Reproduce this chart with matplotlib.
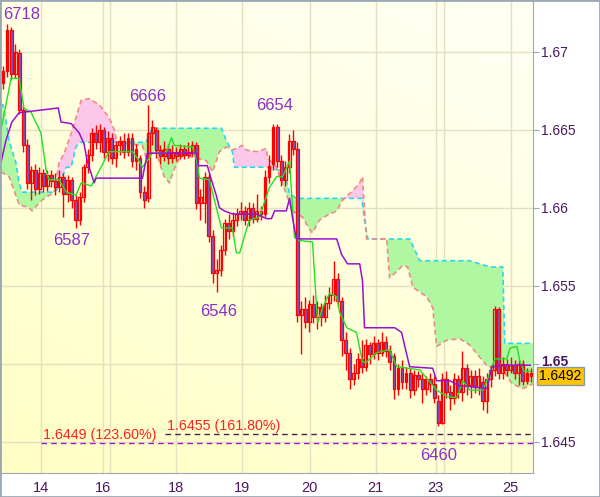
import numpy as np
import matplotlib
matplotlib.use("Agg")
import matplotlib.pyplot as plt
import matplotlib.transforms as mtransforms
from matplotlib.patches import Rectangle

plt.rcParams['font.family'] = ['Liberation Sans', 'DejaVu Sans']

# --- candles, prices in pips (1.6xxx -> 6xxx) ---
opens = [6680, 6688, 6714, 6686, 6699, 6663, 6640, 6616, 6624, 6612, 6622, 6614, 6621, 6617, 6613, 6620,
         6609, 6618, 6605, 6592, 6607, 6626, 6634, 6648, 6642, 6650, 6636, 6645, 6632, 6640, 6643, 6636,
         6645, 6630, 6632, 6610, 6606, 6648, 6650, 6637, 6633, 6638, 6632, 6636, 6633, 6638, 6634, 6636,
         6640, 6603, 6603, 6620, 6582, 6558, 6560, 6573, 6590, 6585, 6592, 6596, 6598, 6592, 6600, 6593,
         6598, 6596, 6620, 6628, 6652, 6630, 6618, 6626, 6643, 6638, 6531, 6535, 6527, 6538, 6530, 6536,
         6530, 6539, 6544, 6554, 6540, 6515, 6507, 6490, 6494, 6503, 6498, 6512, 6506, 6513, 6507, 6514,
         6508, 6505, 6484, 6497, 6488, 6494, 6483, 6493, 6490, 6484, 6490, 6487, 6476, 6462, 6490, 6482,
         6478, 6490, 6482, 6497, 6486, 6492, 6485, 6488, 6476, 6490, 6496, 6535, 6494, 6500, 6496, 6499,
         6494, 6500, 6489, 6494]
closes = [6688, 6714, 6686, 6700, 6663, 6640, 6616, 6624, 6612, 6622, 6614, 6621, 6617, 6613, 6620, 6609,
          6618, 6605, 6592, 6607, 6626, 6634, 6648, 6642, 6650, 6636, 6645, 6632, 6640, 6643, 6636, 6645,
          6630, 6638, 6610, 6605, 6648, 6652, 6637, 6633, 6638, 6632, 6636, 6633, 6638, 6634, 6636, 6640,
          6603, 6607, 6620, 6582, 6558, 6560, 6573, 6590, 6585, 6592, 6596, 6598, 6592, 6600, 6593, 6598,
          6596, 6620, 6627, 6652, 6630, 6618, 6626, 6643, 6638, 6531, 6535, 6527, 6538, 6530, 6536, 6530,
          6539, 6544, 6554, 6540, 6515, 6507, 6490, 6494, 6503, 6498, 6512, 6506, 6513, 6507, 6514, 6508,
          6501, 6484, 6497, 6488, 6494, 6483, 6493, 6490, 6484, 6490, 6487, 6478, 6462, 6490, 6482, 6478,
          6490, 6482, 6497, 6486, 6492, 6485, 6492, 6476, 6490, 6496, 6535, 6494, 6500, 6496, 6499, 6494,
          6500, 6489, 6494, 6492]
highs = [6691, 6718, 6716, 6705, 6702, 6665, 6644, 6627, 6628, 6626, 6625, 6624, 6624, 6622, 6624, 6622,
         6621, 6620, 6608, 6610, 6628, 6638, 6651, 6653, 6654, 6652, 6649, 6648, 6643, 6646, 6648, 6648,
         6648, 6641, 6634, 6614, 6666, 6656, 6652, 6640, 6643, 6641, 6640, 6639, 6641, 6640, 6642, 6643,
         6642, 6612, 6623, 6622, 6586, 6567, 6576, 6593, 6596, 6597, 6600, 6604, 6601, 6604, 6603, 6609,
         6601, 6624, 6634, 6654, 6654, 6634, 6630, 6647, 6650, 6642, 6540, 6543, 6541, 6544, 6540, 6539,
         6544, 6549, 6566, 6558, 6543, 6520, 6510, 6500, 6507, 6515, 6516, 6514, 6518, 6516, 6520, 6518,
         6512, 6507, 6500, 6502, 6498, 6497, 6496, 6495, 6494, 6492, 6494, 6492, 6480, 6494, 6495, 6486,
         6494, 6493, 6508, 6500, 6496, 6496, 6497, 6492, 6494, 6499, 6537, 6536, 6504, 6503, 6504, 6502,
         6502, 6502, 6497, 6497]
lows = [6676, 6684, 6682, 6683, 6660, 6636, 6612, 6605, 6608, 6609, 6610, 6611, 6613, 6608, 6610, 6594,
        6604, 6600, 6587, 6589, 6604, 6622, 6630, 6638, 6636, 6632, 6630, 6628, 6626, 6634, 6632, 6633,
        6626, 6624, 6606, 6600, 6604, 6640, 6632, 6628, 6630, 6628, 6629, 6630, 6631, 6631, 6632, 6633,
        6599, 6592, 6590, 6578, 6552, 6546, 6556, 6570, 6580, 6582, 6588, 6592, 6589, 6588, 6590, 6591,
        6592, 6594, 6616, 6624, 6626, 6614, 6614, 6622, 6634, 6527, 6506, 6523, 6520, 6526, 6522, 6524,
        6527, 6535, 6540, 6536, 6505, 6496, 6484, 6486, 6490, 6494, 6495, 6500, 6503, 6502, 6505, 6504,
        6496, 6477, 6480, 6484, 6484, 6478, 6480, 6485, 6475, 6480, 6482, 6475, 6460, 6461, 6478, 6470,
        6474, 6478, 6476, 6480, 6478, 6481, 6480, 6470, 6468, 6485, 6492, 6490, 6490, 6492, 6494, 6490,
        6486, 6486, 6487, 6488]

# --- ichimoku lines, (bar index, pips) vertices ---
tenkan_x = [-0.5, 2.0, 4.0, 5.2, 7.0, 9.4, 10.7, 11.4, 13.9, 15.7, 18.1, 19.4, 21.9, 23.9, 26.3, 32.1,
            33.3, 34.6, 36.3, 37.0, 40.5, 41.8, 42.5, 47.0, 48.2, 48.7, 51.2, 54.2, 56.9, 57.9, 58.7,
            61.1, 63.6, 66.1, 67.9, 69.4, 71.1, 72.3, 73.6, 76.8, 77.8, 78.1, 79.3, 81.0, 82.8, 83.5,
            85.3, 87.7, 89.2, 90.2, 92.7, 95.9, 97.7, 103.4, 107.6, 110.1, 112.6, 114.1, 115.8, 119.1,
            120.8, 122.0, 125.0, 125.8, 127.5, 128.3, 129.3, 130.8]
tenkan_y = [6650, 6683, 6683, 6664, 6661, 6648, 6624, 6618, 6618, 6610, 6608, 6616, 6614, 6624, 6636, 6636,
            6632, 6626, 6632, 6635, 6635, 6645, 6640, 6639, 6629, 6619, 6618, 6587, 6587, 6571, 6571,
            6592, 6594, 6613, 6620, 6620, 6630, 6581, 6579, 6578, 6536, 6526, 6536, 6545, 6543, 6533,
            6523, 6520, 6501, 6501, 6507, 6509, 6498, 6496, 6483, 6479, 6478, 6489, 6483, 6483,
            6494, 6503, 6503, 6510, 6511, 6501, 6495, 6495]

kijun_x = [-0.5, 0.7, 2.2, 4.0, 7.2, 13.7, 14.4, 16.9, 18.9, 20.1, 20.9, 22.6, 23.1, 34.6, 35.8, 48.0,
           48.5, 50.7, 51.7, 52.9, 53.7, 54.9, 56.9, 62.9, 65.4, 66.6, 67.4, 70.3, 71.1, 71.8, 72.8,
           82.8, 84.0, 85.5, 88.5, 89.2, 89.7, 97.2, 98.9, 99.7, 100.9, 106.6, 107.6, 110.9, 112.9,
           120.1, 121.3, 125.3, 130.8]
kijun_y = [6629, 6643, 6655, 6661, 6662, 6664, 6655, 6654, 6648, 6641, 6630, 6616, 6619, 6619, 6635, 6635,
           6627, 6627, 6618, 6608, 6600, 6598, 6596, 6596, 6593, 6593, 6598, 6598, 6606, 6594, 6580,
           6580, 6570, 6564, 6564, 6553, 6523, 6523, 6520, 6511, 6498, 6497, 6489, 6489, 6486,
           6484, 6498, 6499, 6499]

span_a_x = [-0.5, 0.0, 0.7, 1.5, 3.2, 4.0, 4.7, 12.2, 13.2, 15.7, 16.9, 18.1, 18.9, 35.5, 37.0, 54.2,
            55.4, 56.9, 57.4, 65.4, 68.6, 70.3, 71.1, 72.8, 89.0, 89.7, 90.5, 100.9, 103.4, 115.8,
            120.8, 124.0, 124.5, 131.5]
span_a_y = [6666, 6666, 6656, 6643, 6629, 6616, 6610, 6610, 6611, 6626, 6626, 6639, 6642, 6642, 6651, 6651,
            6643, 6636, 6626, 6626, 6624, 6618, 6609, 6606, 6606, 6592, 6580, 6580, 6566, 6566,
            6562, 6562, 6513, 6513]

span_b_x = [-0.5, 1.5, 4.0, 6.5, 7.2, 9.7, 12.7, 13.9, 15.2, 17.2, 19.4, 21.4, 23.9, 26.3, 27.6, 28.3,
            34.6, 35.5, 38.0, 38.8, 40.0, 41.3, 42.5, 44.2, 48.0, 50.5, 52.0, 53.7, 55.4, 56.9, 59.4,
            60.4, 62.9, 65.4, 65.6, 67.9, 68.6, 70.3, 71.8, 74.3, 76.1, 76.8, 78.5, 80.3, 82.8, 84.3,
            86.8, 88.5, 89.2, 89.5, 90.2, 95.2, 95.9, 97.2, 99.2, 100.4, 101.7, 105.1, 106.6, 107.6,
            110.1, 113.3, 115.8, 118.3, 120.3, 124.0, 125.3, 126.3, 129.0, 131.5]
span_b_y = [6623, 6620, 6602, 6600, 6598, 6605, 6610, 6629, 6635, 6650, 6669, 6670, 6666, 6658, 6650, 6642,
            6640, 6632, 6637, 6629, 6620, 6616, 6625, 6634, 6632, 6630, 6623, 6636, 6639, 6637, 6640,
            6637, 6636, 6638, 6632, 6626, 6620, 6609, 6598, 6594, 6586, 6584, 6592, 6595, 6598, 6605,
            6611, 6616, 6620, 6606, 6580, 6580, 6555, 6558, 6563, 6562, 6549, 6543, 6536, 6511,
            6515, 6516, 6512, 6504, 6498, 6496, 6491, 6487, 6484, 6487]

# --- annotations ---
pivot_idx = [1, 18, 36, 53, 67, 108]
pivot_is_high = [True, False, True, False, True, False]
pivot_offsets = [(15, 2), (-4, -5), (0, 1), (2, -12), (2, 11), (0, -22)]
fib_levels = [1.6449, 1.6455]
fib_texts = ['1.6449 (123.60%)', '1.6455 (161.80%)']
fib_start = [9.4, 40.3]
fib_colors = ['#9a1ad0', '#4a2050']
last_price = 1.6492

day_pos = [9.4, 24.9, 43.0, 59.4, 76.1, 92.5, 107.4, 126.0]
day_labels = ['14', '16', '18', '19', '20', '21', '23', '25']
extra_grid = [26.6, 109.4]
price_ticks = [1.645, 1.65, 1.655, 1.66, 1.665, 1.67]


def to_price(p):
    return 1 + np.asarray(p, dtype=float) / 10000


o, c, h, l = to_price(opens), to_price(closes), to_price(highs), to_price(lows)
idx = np.arange(len(o))

fig = plt.figure(figsize=(6.0, 4.97), dpi=100)
ax = fig.add_axes([1 / 600, 24 / 497, 532 / 600, 473 / 497])
xlo, xhi = -0.5, 131.5
ylo, yhi = 1.64298, 1.67333
ax.set_xlim(xlo, xhi)
ax.set_ylim(ylo, yhi)

# background gradient
gy, gx = np.mgrid[0:1:200j, 0:1:200j]
t = np.clip(0.7 * gy + 0.35 * gx, 0, 1)
top = np.array([1.0, 1.0, 0.95])
bot = np.array([1.0, 1.0, 0.77])
bg = bot[None, None, :] * (1 - t[..., None]) + top[None, None, :] * t[..., None]
ax.imshow(bg, extent=[xlo, xhi, ylo, yhi], origin='lower', aspect='auto', zorder=0)

# grid
for p in price_ticks:
    ax.axhline(p, color='#e2e0c0', lw=1, zorder=1)
for x in day_pos + extra_grid:
    ax.axvline(x, color='#e2e0c0', lw=1, zorder=1)

# cloud
xs = np.linspace(xlo, xhi, 3000)
sa = np.interp(xs, span_a_x, to_price(span_a_y))
sb = np.interp(xs, span_b_x, to_price(span_b_y))
ax.fill_between(xs, sa, sb, where=sa >= sb, interpolate=True, color='#b0f7a2', lw=0, zorder=2)
ax.fill_between(xs, sa, sb, where=sa < sb, interpolate=True, color='#fcc8ea', lw=0, zorder=2)
ax.plot(span_a_x, to_price(span_a_y), color='#28d8f0', lw=1.2, ls=(0, (3, 2)), zorder=2.5)
ax.plot(span_b_x, to_price(span_b_y), color='#f08a84', lw=1.2, ls=(0, (3, 2)), zorder=2.5)

# candles
ax.vlines(idx, l, h, color='#ff0000', lw=1.0, zorder=3)
bear = c < o
ax.bar(idx[bear], (o - c)[bear], bottom=c[bear], width=0.72, color='#6a5acd',
       edgecolor='#ff0000', lw=0.9, zorder=3.2)
ax.bar(idx[~bear], (c - o)[~bear], bottom=o[~bear], width=0.72, color='none',
       edgecolor='#ff0000', lw=0.9, zorder=3.2)

# tenkan / kijun
ax.plot(tenkan_x, to_price(tenkan_y), color='#22e022', lw=1.0, zorder=4)
ax.plot(kijun_x, to_price(kijun_y), color='#9a10d0', lw=1.1, zorder=4)

# fib levels
for lev, txt, xs0, col in zip(fib_levels, fib_texts, fib_start, fib_colors):
    ax.hlines(lev, xs0, xhi, color=col, lw=1, linestyles=(0, (4, 3)), zorder=5)
    ax.annotate(txt, (xs0, lev), xytext=(2, 1), textcoords='offset pixels',
                color='#ff2020', fontsize=10.3, ha='left', va='bottom', zorder=6)

# pivot labels
for i, hi_, (dx, dy) in zip(pivot_idx, pivot_is_high, pivot_offsets):
    val = highs[i] if hi_ else lows[i]
    ax.annotate(str(val), (i, to_price(val)), xytext=(dx, dy), textcoords='offset pixels',
                ha='center', va='bottom' if hi_ else 'top', color='#8a2fc8',
                fontsize=12, zorder=6)

# axes styling
for s in ['top', 'left']:
    ax.spines[s].set_visible(False)
for s in ['right', 'bottom']:
    ax.spines[s].set_color('#9aa8b5')
ax.yaxis.tick_right()
ax.set_yticks(price_ticks)
ax.set_yticklabels(['1.645', '1.65', '1.655', '1.66', '1.665', '1.67'])
ax.tick_params(axis='y', direction='out', length=4, color='#9aa8b5', pad=2,
               labelsize=10, labelcolor='#4a1860')
lab65 = ax.get_yticklabels()[1]
lab65.set_fontweight('bold')
lab65.set_transform(lab65.get_transform() + mtransforms.ScaledTranslation(0, 3 / 100, fig.dpi_scale_trans))
ax.set_xticks(day_pos)
ax.set_xticklabels(day_labels)
ax.tick_params(axis='x', length=0, pad=6, labelsize=10.5, labelcolor='#4a1860')

# last price box
trans = mtransforms.blended_transform_factory(ax.transAxes, ax.transData)
ax.text(1.012, last_price, '1.6492', transform=trans, ha='left', va='center', fontsize=10,
        color='black', clip_on=False,
        bbox=dict(boxstyle='square,pad=0.15', facecolor='#ffc400', edgecolor='#8899aa', lw=1))

fig.patches.append(Rectangle((0, 0), 1, 1, transform=fig.transFigure, fill=False,
                             edgecolor='#9aa8b5', lw=2))

fig.savefig('out.png', dpi=100)
